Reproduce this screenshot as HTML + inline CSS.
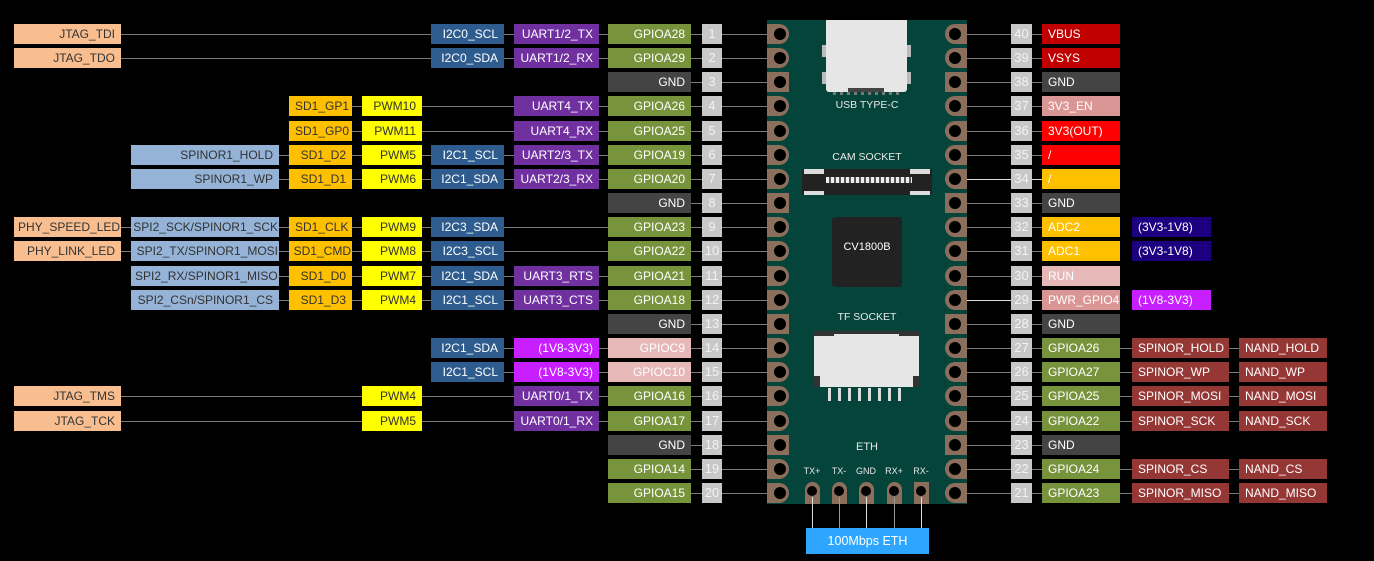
<!DOCTYPE html>
<html><head><meta charset="utf-8"><style>
*{margin:0;padding:0;box-sizing:border-box}
body{width:1374px;height:561px;background:#000;position:relative;overflow:hidden;font-family:"Liberation Sans",sans-serif;font-size:12px}
div{position:absolute}
.b{height:20px;line-height:20px;white-space:nowrap;padding:0 6px;color:#fff}
.l{text-align:right}
.r{text-align:left}
.c{text-align:center}
.ln{height:1px;background:#7a7a7a}
.jt{background:#f9be8f;color:#333}
.sp{background:#95b3d7;color:#333}
.sd{background:#ffc000;color:#333}
.pw{background:#ffff00;color:#333}
.i2{background:#2e5c8e}
.ua{background:#7030a0}
.gp{background:#77933c}
.gn{background:#444}
.pn{background:#c8c8c8;color:#f2f2f2;text-align:center;padding:0;font-size:13px}
.rd{background:#c00000}
.re{background:#ff0000}
.pk{background:#e6b8b8}
.pk2{background:#da9694}
.nv{background:#1c0080}
.mg{background:#c71fff}
.br{background:#953735}
.pl{width:22px;height:20px;background:#8c6e5c;border-radius:0 10px 10px 0}
.pr{width:22px;height:20px;background:#8c6e5c;border-radius:10px 0 0 10px}
.sq{border-radius:0}
.h{width:12px;height:12px;border-radius:50%;background:#000}
.t{color:#e8e8e8;font-size:10.5px}
</style></head><body>
<!-- board -->
<div style="left:767px;top:20px;width:200px;height:484px;background:#05443a"></div>
<!-- USB -->
<div style="left:826px;top:20px;width:81px;height:72px;background:#e6e6e6;border-radius:0 0 3px 3px"></div>
<div style="left:822px;top:45px;width:4px;height:12px;background:#bbb"></div>
<div style="left:907px;top:45px;width:4px;height:12px;background:#bbb"></div>
<div style="left:822px;top:72px;width:4px;height:12px;background:#bbb"></div>
<div style="left:907px;top:72px;width:4px;height:12px;background:#bbb"></div>
<div style="left:848px;top:88px;width:36px;height:4px;background:#444"></div>
<div style="left:833px;top:92px;width:70px;height:3px;background:repeating-linear-gradient(90deg,#777 0 3px,transparent 3px 7px)"></div>
<div class="t" style="left:767px;width:200px;top:99px;text-align:center">USB TYPE-C</div>
<div class="t" style="left:767px;width:200px;top:151px;text-align:center">CAM SOCKET</div>
<div style="left:802px;top:169px;width:130px;height:26px;background:#222;border-radius:2px"></div>
<div style="left:804px;top:169px;width:20px;height:5px;background:#ddd"></div>
<div style="left:910px;top:169px;width:20px;height:5px;background:#ddd"></div>
<div style="left:804px;top:191px;width:20px;height:4px;background:#ddd"></div>
<div style="left:910px;top:191px;width:20px;height:4px;background:#ddd"></div>
<div style="left:826px;top:177px;width:86px;height:6px;background:repeating-linear-gradient(90deg,#eee 0 3px,#555 3px 5px)"></div>
<div style="left:832px;top:217px;width:70px;height:70px;background:#222;border-radius:3px"></div>
<div style="left:832px;top:241px;width:70px;color:#fff;font-size:11px;text-align:center">CV1800B</div>
<div class="t" style="left:767px;width:200px;top:311px;text-align:center">TF SOCKET</div>
<div style="left:814px;top:331px;width:105px;height:56px;background:#e6e6e6"></div>
<div style="left:814px;top:331px;width:105px;height:3px;background:#333"></div>
<div style="left:814px;top:376px;width:6px;height:11px;background:#333"></div>
<div style="left:913px;top:376px;width:6px;height:11px;background:#333"></div>
<div style="left:814px;top:331px;width:20px;height:5px;background:#333"></div>
<div style="left:899px;top:331px;width:20px;height:5px;background:#333"></div>
<div style="left:828px;top:388px;width:78px;height:13px;background:repeating-linear-gradient(90deg,#ddd 0 3px,transparent 3px 10px)"></div>
<div class="t" style="left:767px;width:200px;top:441px;text-align:center;font-size:11px">ETH</div>
<div class="t" style="left:800px;top:466px;width:24px;text-align:center;font-size:9px">TX+</div>
<div class="t" style="left:827px;top:466px;width:24px;text-align:center;font-size:9px">TX-</div>
<div class="t" style="left:854px;top:466px;width:24px;text-align:center;font-size:9px">GND</div>
<div class="t" style="left:882px;top:466px;width:24px;text-align:center;font-size:9px">RX+</div>
<div class="t" style="left:909px;top:466px;width:24px;text-align:center;font-size:9px">RX-</div>
<!-- eth pads -->
<div style="left:805px;top:482px;width:15px;height:22px;background:#8c6e5c;border-radius:8px 8px 0 0"></div>
<div style="left:832px;top:482px;width:15px;height:22px;background:#8c6e5c;border-radius:8px 8px 0 0"></div>
<div style="left:859px;top:482px;width:15px;height:22px;background:#8c6e5c;border-radius:8px 8px 0 0"></div>
<div style="left:887px;top:482px;width:15px;height:22px;background:#8c6e5c;border-radius:8px 8px 0 0"></div>
<div style="left:914px;top:482px;width:15px;height:22px;background:#8c6e5c"></div>
<div class="h" style="left:807px;top:486px;width:10px;height:10px"></div>
<div class="h" style="left:834px;top:486px;width:10px;height:10px"></div>
<div class="h" style="left:861px;top:486px;width:10px;height:10px"></div>
<div class="h" style="left:889px;top:486px;width:10px;height:10px"></div>
<div class="h" style="left:916px;top:486px;width:10px;height:10px"></div>
<div style="left:812px;top:497px;width:1px;height:31px;background:#ddd"></div>
<div style="left:839px;top:497px;width:1px;height:31px;background:#999"></div>
<div style="left:866px;top:497px;width:1px;height:31px;background:#ddd"></div>
<div style="left:894px;top:497px;width:1px;height:31px;background:#999"></div>
<div style="left:921px;top:497px;width:1px;height:31px;background:#ddd"></div>
<div class="b c" style="left:806px;top:528px;width:123px;height:26px;line-height:26px;background:#2ea6ff;font-size:12.5px">100Mbps ETH</div>

<!-- left lines -->
<div class="ln" style="left:121px;top:34px;width:660px"></div>
<div class="ln" style="left:121px;top:58px;width:660px"></div>
<div class="ln" style="left:691px;top:82px;width:90px"></div>
<div class="ln" style="left:352px;top:106px;width:429px"></div>
<div class="ln" style="left:352px;top:131px;width:429px"></div>
<div class="ln" style="left:279px;top:155px;width:502px"></div>
<div class="ln" style="left:279px;top:179px;width:502px"></div>
<div class="ln" style="left:691px;top:203px;width:90px"></div>
<div class="ln" style="left:121px;top:227px;width:660px"></div>
<div class="ln" style="left:121px;top:251px;width:660px"></div>
<div class="ln" style="left:279px;top:276px;width:502px"></div>
<div class="ln" style="left:279px;top:300px;width:502px"></div>
<div class="ln" style="left:691px;top:324px;width:90px"></div>
<div class="ln" style="left:504px;top:348px;width:277px"></div>
<div class="ln" style="left:504px;top:372px;width:277px"></div>
<div class="ln" style="left:121px;top:396px;width:660px"></div>
<div class="ln" style="left:121px;top:421px;width:660px"></div>
<div class="ln" style="left:691px;top:445px;width:90px"></div>
<div class="ln" style="left:691px;top:469px;width:90px"></div>
<div class="ln" style="left:691px;top:493px;width:90px"></div>
<!-- right lines -->
<div class="ln" style="left:955px;top:34px;width:87px"></div>
<div class="ln" style="left:955px;top:58px;width:87px"></div>
<div class="ln" style="left:955px;top:82px;width:87px"></div>
<div class="ln" style="left:955px;top:106px;width:87px"></div>
<div class="ln" style="left:955px;top:131px;width:87px"></div>
<div class="ln" style="left:955px;top:155px;width:87px"></div>
<div class="ln" style="left:955px;top:179px;width:87px;background:#ddd"></div>
<div class="ln" style="left:955px;top:203px;width:87px"></div>
<div class="ln" style="left:955px;top:227px;width:87px"></div>
<div class="ln" style="left:955px;top:251px;width:87px"></div>
<div class="ln" style="left:955px;top:276px;width:87px"></div>
<div class="ln" style="left:955px;top:300px;width:87px;background:#ddd"></div>
<div class="ln" style="left:955px;top:324px;width:87px"></div>
<div class="ln" style="left:955px;top:348px;width:290px"></div>
<div class="ln" style="left:955px;top:372px;width:290px"></div>
<div class="ln" style="left:955px;top:396px;width:290px"></div>
<div class="ln" style="left:955px;top:421px;width:290px"></div>
<div class="ln" style="left:955px;top:445px;width:87px"></div>
<div class="ln" style="left:955px;top:469px;width:290px"></div>
<div class="ln" style="left:955px;top:493px;width:290px"></div>

<!-- left pads -->
<div class="pl" style="left:767px;top:24px"></div><div class="h" style="left:774px;top:28px"></div>
<div class="pl" style="left:767px;top:48px"></div><div class="h" style="left:774px;top:52px"></div>
<div class="pl sq" style="left:767px;top:72px"></div><div class="h" style="left:774px;top:76px"></div>
<div class="pl" style="left:767px;top:96px"></div><div class="h" style="left:774px;top:100px"></div>
<div class="pl" style="left:767px;top:121px"></div><div class="h" style="left:774px;top:125px"></div>
<div class="pl" style="left:767px;top:145px"></div><div class="h" style="left:774px;top:149px"></div>
<div class="pl" style="left:767px;top:169px"></div><div class="h" style="left:774px;top:173px"></div>
<div class="pl sq" style="left:767px;top:193px"></div><div class="h" style="left:774px;top:197px"></div>
<div class="pl" style="left:767px;top:217px"></div><div class="h" style="left:774px;top:221px"></div>
<div class="pl" style="left:767px;top:241px"></div><div class="h" style="left:774px;top:245px"></div>
<div class="pl" style="left:767px;top:266px"></div><div class="h" style="left:774px;top:270px"></div>
<div class="pl" style="left:767px;top:290px"></div><div class="h" style="left:774px;top:294px"></div>
<div class="pl sq" style="left:767px;top:314px"></div><div class="h" style="left:774px;top:318px"></div>
<div class="pl" style="left:767px;top:338px"></div><div class="h" style="left:774px;top:342px"></div>
<div class="pl" style="left:767px;top:362px"></div><div class="h" style="left:774px;top:366px"></div>
<div class="pl" style="left:767px;top:386px"></div><div class="h" style="left:774px;top:390px"></div>
<div class="pl" style="left:767px;top:411px"></div><div class="h" style="left:774px;top:415px"></div>
<div class="pl sq" style="left:767px;top:435px"></div><div class="h" style="left:774px;top:439px"></div>
<div class="pl" style="left:767px;top:459px"></div><div class="h" style="left:774px;top:463px"></div>
<div class="pl" style="left:767px;top:483px"></div><div class="h" style="left:774px;top:487px"></div>
<!-- right pads -->
<div class="pr" style="left:945px;top:24px"></div><div class="h" style="left:949px;top:28px"></div>
<div class="pr" style="left:945px;top:48px"></div><div class="h" style="left:949px;top:52px"></div>
<div class="pr sq" style="left:945px;top:72px"></div><div class="h" style="left:949px;top:76px"></div>
<div class="pr" style="left:945px;top:96px"></div><div class="h" style="left:949px;top:100px"></div>
<div class="pr" style="left:945px;top:121px"></div><div class="h" style="left:949px;top:125px"></div>
<div class="pr" style="left:945px;top:145px"></div><div class="h" style="left:949px;top:149px"></div>
<div class="pr" style="left:945px;top:169px"></div><div class="h" style="left:949px;top:173px"></div>
<div class="pr sq" style="left:945px;top:193px"></div><div class="h" style="left:949px;top:197px"></div>
<div class="pr" style="left:945px;top:217px"></div><div class="h" style="left:949px;top:221px"></div>
<div class="pr" style="left:945px;top:241px"></div><div class="h" style="left:949px;top:245px"></div>
<div class="pr" style="left:945px;top:266px"></div><div class="h" style="left:949px;top:270px"></div>
<div class="pr" style="left:945px;top:290px"></div><div class="h" style="left:949px;top:294px"></div>
<div class="pr sq" style="left:945px;top:314px"></div><div class="h" style="left:949px;top:318px"></div>
<div class="pr" style="left:945px;top:338px"></div><div class="h" style="left:949px;top:342px"></div>
<div class="pr" style="left:945px;top:362px"></div><div class="h" style="left:949px;top:366px"></div>
<div class="pr" style="left:945px;top:386px"></div><div class="h" style="left:949px;top:390px"></div>
<div class="pr" style="left:945px;top:411px"></div><div class="h" style="left:949px;top:415px"></div>
<div class="pr sq" style="left:945px;top:435px"></div><div class="h" style="left:949px;top:439px"></div>
<div class="pr" style="left:945px;top:459px"></div><div class="h" style="left:949px;top:463px"></div>
<div class="pr" style="left:945px;top:483px"></div><div class="h" style="left:949px;top:487px"></div>

<!-- left pin numbers -->
<div class="b pn" style="left:702px;top:24px;width:20px">1</div>
<div class="b pn" style="left:702px;top:48px;width:20px">2</div>
<div class="b pn" style="left:702px;top:72px;width:20px">3</div>
<div class="b pn" style="left:702px;top:96px;width:20px">4</div>
<div class="b pn" style="left:702px;top:121px;width:20px">5</div>
<div class="b pn" style="left:702px;top:145px;width:20px">6</div>
<div class="b pn" style="left:702px;top:169px;width:20px">7</div>
<div class="b pn" style="left:702px;top:193px;width:20px">8</div>
<div class="b pn" style="left:702px;top:217px;width:20px">9</div>
<div class="b pn" style="left:702px;top:241px;width:20px">10</div>
<div class="b pn" style="left:702px;top:266px;width:20px">11</div>
<div class="b pn" style="left:702px;top:290px;width:20px">12</div>
<div class="b pn" style="left:702px;top:314px;width:20px">13</div>
<div class="b pn" style="left:702px;top:338px;width:20px">14</div>
<div class="b pn" style="left:702px;top:362px;width:20px">15</div>
<div class="b pn" style="left:702px;top:386px;width:20px">16</div>
<div class="b pn" style="left:702px;top:411px;width:20px">17</div>
<div class="b pn" style="left:702px;top:435px;width:20px">18</div>
<div class="b pn" style="left:702px;top:459px;width:20px">19</div>
<div class="b pn" style="left:702px;top:483px;width:20px">20</div>
<!-- right pin numbers -->
<div class="b pn" style="left:1011px;top:24px;width:21px">40</div>
<div class="b pn" style="left:1011px;top:48px;width:21px">39</div>
<div class="b pn" style="left:1011px;top:72px;width:21px">38</div>
<div class="b pn" style="left:1011px;top:96px;width:21px">37</div>
<div class="b pn" style="left:1011px;top:121px;width:21px">36</div>
<div class="b pn" style="left:1011px;top:145px;width:21px">35</div>
<div class="b pn" style="left:1011px;top:169px;width:21px">34</div>
<div class="b pn" style="left:1011px;top:193px;width:21px">33</div>
<div class="b pn" style="left:1011px;top:217px;width:21px">32</div>
<div class="b pn" style="left:1011px;top:241px;width:21px">31</div>
<div class="b pn" style="left:1011px;top:266px;width:21px">30</div>
<div class="b pn" style="left:1011px;top:290px;width:21px">29</div>
<div class="b pn" style="left:1011px;top:314px;width:21px">28</div>
<div class="b pn" style="left:1011px;top:338px;width:21px">27</div>
<div class="b pn" style="left:1011px;top:362px;width:21px">26</div>
<div class="b pn" style="left:1011px;top:386px;width:21px">25</div>
<div class="b pn" style="left:1011px;top:411px;width:21px">24</div>
<div class="b pn" style="left:1011px;top:435px;width:21px">23</div>
<div class="b pn" style="left:1011px;top:459px;width:21px">22</div>
<div class="b pn" style="left:1011px;top:483px;width:21px">21</div>

<!-- GPIO column left -->
<div class="b l gp" style="left:608px;top:24px;width:83px">GPIOA28</div>
<div class="b l gp" style="left:608px;top:48px;width:83px">GPIOA29</div>
<div class="b l gn" style="left:608px;top:72px;width:83px">GND</div>
<div class="b l gp" style="left:608px;top:96px;width:83px">GPIOA26</div>
<div class="b l gp" style="left:608px;top:121px;width:83px">GPIOA25</div>
<div class="b l gp" style="left:608px;top:145px;width:83px">GPIOA19</div>
<div class="b l gp" style="left:608px;top:169px;width:83px">GPIOA20</div>
<div class="b l gn" style="left:608px;top:193px;width:83px">GND</div>
<div class="b l gp" style="left:608px;top:217px;width:83px">GPIOA23</div>
<div class="b l gp" style="left:608px;top:241px;width:83px">GPIOA22</div>
<div class="b l gp" style="left:608px;top:266px;width:83px">GPIOA21</div>
<div class="b l gp" style="left:608px;top:290px;width:83px">GPIOA18</div>
<div class="b l gn" style="left:608px;top:314px;width:83px">GND</div>
<div class="b l pk" style="left:608px;top:338px;width:83px">GPIOC9</div>
<div class="b l pk" style="left:608px;top:362px;width:83px">GPIOC10</div>
<div class="b l gp" style="left:608px;top:386px;width:83px">GPIOA16</div>
<div class="b l gp" style="left:608px;top:411px;width:83px">GPIOA17</div>
<div class="b l gn" style="left:608px;top:435px;width:83px">GND</div>
<div class="b l gp" style="left:608px;top:459px;width:83px">GPIOA14</div>
<div class="b l gp" style="left:608px;top:483px;width:83px">GPIOA15</div>
<!-- UART column -->
<div class="b l ua" style="left:514px;top:24px;width:85px">UART1/2_TX</div>
<div class="b l ua" style="left:514px;top:48px;width:85px">UART1/2_RX</div>
<div class="b l ua" style="left:514px;top:96px;width:85px">UART4_TX</div>
<div class="b l ua" style="left:514px;top:121px;width:85px">UART4_RX</div>
<div class="b l ua" style="left:514px;top:145px;width:85px">UART2/3_TX</div>
<div class="b l ua" style="left:514px;top:169px;width:85px">UART2/3_RX</div>
<div class="b l ua" style="left:514px;top:266px;width:85px">UART3_RTS</div>
<div class="b l ua" style="left:514px;top:290px;width:85px">UART3_CTS</div>
<div class="b l mg" style="left:514px;top:338px;width:85px">(1V8-3V3)</div>
<div class="b l mg" style="left:514px;top:362px;width:85px">(1V8-3V3)</div>
<div class="b l ua" style="left:514px;top:386px;width:85px">UART0/1_TX</div>
<div class="b l ua" style="left:514px;top:411px;width:85px">UART0/1_RX</div>
<!-- I2C column -->
<div class="b l i2" style="left:431px;top:24px;width:73px">I2C0_SCL</div>
<div class="b l i2" style="left:431px;top:48px;width:73px">I2C0_SDA</div>
<div class="b l i2" style="left:431px;top:145px;width:73px">I2C1_SCL</div>
<div class="b l i2" style="left:431px;top:169px;width:73px">I2C1_SDA</div>
<div class="b l i2" style="left:431px;top:217px;width:73px">I2C3_SDA</div>
<div class="b l i2" style="left:431px;top:241px;width:73px">I2C3_SCL</div>
<div class="b l i2" style="left:431px;top:266px;width:73px">I2C1_SDA</div>
<div class="b l i2" style="left:431px;top:290px;width:73px">I2C1_SCL</div>
<div class="b l i2" style="left:431px;top:338px;width:73px">I2C1_SDA</div>
<div class="b l i2" style="left:431px;top:362px;width:73px">I2C1_SCL</div>
<!-- PWM column -->
<div class="b l pw" style="left:362px;top:96px;width:60px">PWM10</div>
<div class="b l pw" style="left:362px;top:121px;width:60px">PWM11</div>
<div class="b l pw" style="left:362px;top:145px;width:60px">PWM5</div>
<div class="b l pw" style="left:362px;top:169px;width:60px">PWM6</div>
<div class="b l pw" style="left:362px;top:217px;width:60px">PWM9</div>
<div class="b l pw" style="left:362px;top:241px;width:60px">PWM8</div>
<div class="b l pw" style="left:362px;top:266px;width:60px">PWM7</div>
<div class="b l pw" style="left:362px;top:290px;width:60px">PWM4</div>
<div class="b l pw" style="left:362px;top:386px;width:60px">PWM4</div>
<div class="b l pw" style="left:362px;top:411px;width:60px">PWM5</div>
<!-- SD column -->
<div class="b l sd" style="left:289px;top:96px;width:63px">SD1_GP1</div>
<div class="b l sd" style="left:289px;top:121px;width:63px">SD1_GP0</div>
<div class="b l sd" style="left:289px;top:145px;width:63px">SD1_D2</div>
<div class="b l sd" style="left:289px;top:169px;width:63px">SD1_D1</div>
<div class="b l sd" style="left:289px;top:217px;width:63px">SD1_CLK</div>
<div class="b l sd" style="left:289px;top:241px;width:63px;padding:0 1px">SD1_CMD</div>
<div class="b l sd" style="left:289px;top:266px;width:63px">SD1_D0</div>
<div class="b l sd" style="left:289px;top:290px;width:63px">SD1_D3</div>
<!-- SPI column -->
<div class="b l sp" style="left:131px;top:145px;width:148px">SPINOR1_HOLD</div>
<div class="b l sp" style="left:131px;top:169px;width:148px">SPINOR1_WP</div>
<div class="b l sp" style="left:131px;top:217px;width:148px;padding:0 1px">SPI2_SCK/SPINOR1_SCK</div>
<div class="b l sp" style="left:131px;top:241px;width:148px;padding:0 1px">SPI2_TX/SPINOR1_MOSI</div>
<div class="b l sp" style="left:131px;top:266px;width:148px;padding:0 4px">SPI2_RX/SPINOR1_MISO</div>
<div class="b l sp" style="left:131px;top:290px;width:148px">SPI2_CSn/SPINOR1_CS</div>
<!-- JTAG column -->
<div class="b l jt" style="left:14px;top:24px;width:107px">JTAG_TDI</div>
<div class="b l jt" style="left:14px;top:48px;width:107px">JTAG_TDO</div>
<div class="b l jt" style="left:14px;top:217px;width:107px;padding:0 4px">PHY_SPEED_LED</div>
<div class="b l jt" style="left:14px;top:241px;width:107px">PHY_LINK_LED</div>
<div class="b l jt" style="left:14px;top:386px;width:107px">JTAG_TMS</div>
<div class="b l jt" style="left:14px;top:411px;width:107px">JTAG_TCK</div>

<!-- right names -->
<div class="b r rd" style="left:1042px;top:24px;width:78px">VBUS</div>
<div class="b r rd" style="left:1042px;top:48px;width:78px">VSYS</div>
<div class="b r gn" style="left:1042px;top:72px;width:78px">GND</div>
<div class="b r pk2" style="left:1042px;top:96px;width:78px">3V3_EN</div>
<div class="b r re" style="left:1042px;top:121px;width:78px">3V3(OUT)</div>
<div class="b r re" style="left:1042px;top:145px;width:78px">/</div>
<div class="b r sd" style="left:1042px;top:169px;width:78px;color:#fff">/</div>
<div class="b r gn" style="left:1042px;top:193px;width:78px">GND</div>
<div class="b r sd" style="left:1042px;top:217px;width:78px;color:#fff">ADC2</div>
<div class="b r sd" style="left:1042px;top:241px;width:78px;color:#fff">ADC1</div>
<div class="b r pk" style="left:1042px;top:266px;width:78px">RUN</div>
<div class="b r pk2" style="left:1042px;top:290px;width:78px">PWR_GPIO4</div>
<div class="b r gn" style="left:1042px;top:314px;width:78px">GND</div>
<div class="b r gp" style="left:1042px;top:338px;width:78px">GPIOA26</div>
<div class="b r gp" style="left:1042px;top:362px;width:78px">GPIOA27</div>
<div class="b r gp" style="left:1042px;top:386px;width:78px">GPIOA25</div>
<div class="b r gp" style="left:1042px;top:411px;width:78px">GPIOA22</div>
<div class="b r gn" style="left:1042px;top:435px;width:78px">GND</div>
<div class="b r gp" style="left:1042px;top:459px;width:78px">GPIOA24</div>
<div class="b r gp" style="left:1042px;top:483px;width:78px">GPIOA23</div>
<!-- right col2 -->
<div class="b r nv" style="left:1132px;top:217px;width:79px">(3V3-1V8)</div>
<div class="b r nv" style="left:1132px;top:241px;width:79px">(3V3-1V8)</div>
<div class="b r mg" style="left:1132px;top:290px;width:79px">(1V8-3V3)</div>
<div class="b r br" style="left:1132px;top:338px;width:97px">SPINOR_HOLD</div>
<div class="b r br" style="left:1132px;top:362px;width:97px">SPINOR_WP</div>
<div class="b r br" style="left:1132px;top:386px;width:97px">SPINOR_MOSI</div>
<div class="b r br" style="left:1132px;top:411px;width:97px">SPINOR_SCK</div>
<div class="b r br" style="left:1132px;top:459px;width:97px">SPINOR_CS</div>
<div class="b r br" style="left:1132px;top:483px;width:97px">SPINOR_MISO</div>
<!-- right col3 -->
<div class="b r br" style="left:1239px;top:338px;width:88px">NAND_HOLD</div>
<div class="b r br" style="left:1239px;top:362px;width:88px">NAND_WP</div>
<div class="b r br" style="left:1239px;top:386px;width:88px">NAND_MOSI</div>
<div class="b r br" style="left:1239px;top:411px;width:88px">NAND_SCK</div>
<div class="b r br" style="left:1239px;top:459px;width:88px">NAND_CS</div>
<div class="b r br" style="left:1239px;top:483px;width:88px">NAND_MISO</div>
</body></html>
